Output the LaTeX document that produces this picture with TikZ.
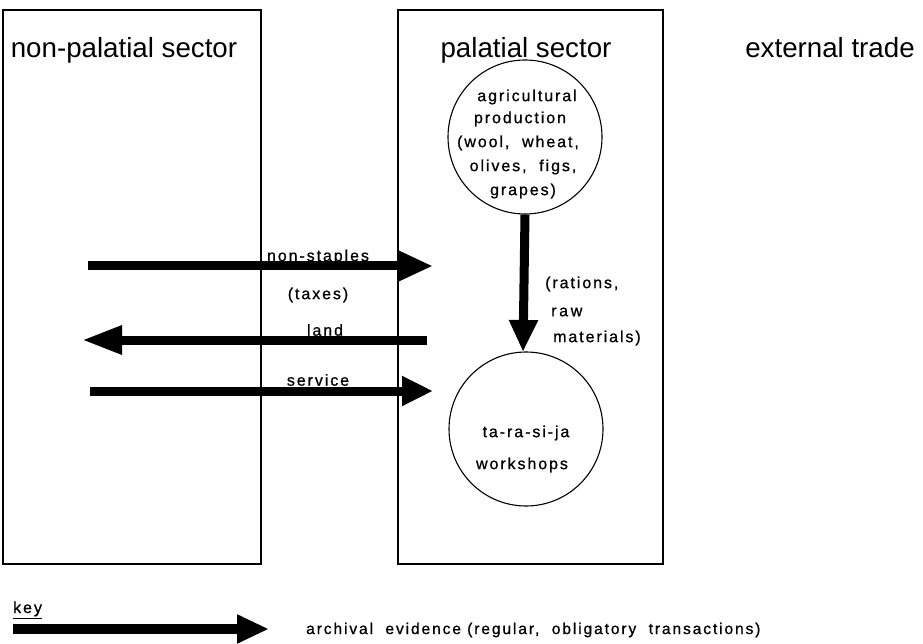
\documentclass[tikz,border=0pt]{standalone}
\usepackage{fontspec}
\setmainfont{Liberation Sans}
\newfontfamily\lblfont[LetterSpace=12,FakeBold=0.8]{Liberation Sans}
\usetikzlibrary{arrows.meta}
\tikzset{
  sectorbox/.style={draw, line width=1.1pt},
  title/.style={font=\fontsize{27.7}{32}\selectfont, anchor=base, inner sep=0pt},
  lbl/.style={font=\lblfont\fontsize{16}{20}\selectfont, inner sep=0pt},
  circ/.style={draw, circle, line width=1.1pt, minimum size=154pt, inner sep=0pt},
  fatarrow/.style={line width=9pt, -{Triangle[length=34pt,width=28pt]}},
}
\begin{document}
\begin{tikzpicture}[x=1pt,y=-1pt]
\useasboundingbox (0,0) rectangle (923,644);
% sector boxes
\node[sectorbox, minimum width=258pt, minimum height=554pt, inner sep=0pt] (np) at (132,287) {};
\node[sectorbox, minimum width=265pt, minimum height=554pt, inner sep=0pt] (pal) at (530.5,287) {};
% titles
\node[title] (tnp) at (124,58) {non-palatial sector};
\node[title] (tpal) at (526,58) {palatial sector};
\node[title] (text) at (830,58) {external trade};
% circles
\node[circ] (agri) at (525,137) {};
\node[circ] (work) at (526,429) {};
% circle texts
\node[lbl] (a1) at (527,97) {agricultural};
\node[lbl] (a2) at (520,119) {production};
\node[lbl] (a3) at (518,143) {(wool,\ \ wheat,};
\node[lbl] (a4) at (523,167) {olives,\ \ figs,};
\node[lbl] (a5) at (523,191) {grapes)};
\node[lbl] (w1) at (526,433) {ta-ra-si-ja};
\node[lbl] (w2) at (522,465) {workshops};
% vertical arrow
\coordinate (vend) at (523,352);
\draw[line width=9pt, -{Triangle[length=32pt,width=27pt]}] (agri.south) -- (vend);
\node[lbl, anchor=west] (r1) at (545,284) {(rations,};
\node[lbl, anchor=west] (r2) at (551,312) {r\,a\,w};
\node[lbl, anchor=west] (r3) at (553,338) {materials)};
% horizontal arrows
\coordinate (s1) at (88,266);   \coordinate (e1) at (433,266);
\coordinate (s2) at (427,340);  \coordinate (e2) at (82,340);
\coordinate (s3) at (90,391);   \coordinate (e3) at (433,391);
\draw[fatarrow] (s1) -- (e1);
\draw[line width=9pt, -{Triangle[length=40pt,width=27pt]}] (s2) -- (e2);
\draw[line width=9pt, -{Triangle[length=31pt,width=28pt]}] (s3) -- (e3);
\node[lbl] (ns) at (318,257) {non-staples};
\node[lbl] (tx) at (318,295) {(taxes)};
\node[lbl] (ld) at (325,330) {land};
\node[lbl] (sv) at (318,380) {service};
% key
\node[lbl, anchor=base west] (key) at (13,613) {\underline{key}};
\coordinate (k1) at (13,629); \coordinate (k2) at (269,629);
\draw[line width=10pt, -{Triangle[length=32pt,width=27pt]}] (k1) -- (k2);
\node[lbl, anchor=west, font=\lblfont\fontsize{15.6}{20}\selectfont] (kt) at (306,630) {archival\ \ evidence\ (regular,\ \ obligatory\ \ transactions)};
\end{tikzpicture}
\end{document}
